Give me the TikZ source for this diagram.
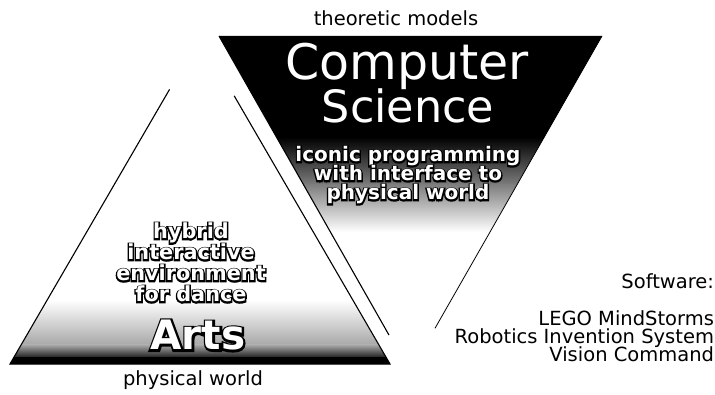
\documentclass[tikz,border=0pt]{standalone}
\usepackage{fontspec}
\setmainfont{DejaVu Sans}
\newfontfamily\olfont[FakeBold=14]{DejaVu Sans Bold}
\newfontfamily\olfontA[FakeBold=10]{DejaVu Sans Bold}
\newfontfamily\whfont{DejaVu Sans Bold}
\usetikzlibrary{calc}
\newcommand{\olt}[1]{\leavevmode\rlap{\color{black}\olfont #1}{\color{white}\whfont #1}}
\newcommand{\oltA}[1]{\leavevmode\rlap{\color{black}\olfontA #1}{\color{white}\whfont #1}}
\begin{document}
\begin{tikzpicture}[x=1pt,y=-1pt,
  every node/.style={inner sep=0pt, outer sep=0pt},
  lab/.style={font=\fontsize{19.5}{15}\selectfont, anchor=base},
  rlab/.style={font=\fontsize{19.5}{15}\selectfont, anchor=base east},
  outl/.style={font=\fontsize{20}{20}\selectfont, anchor=base},
  outlb/.style={font=\fontsize{20.8}{20}\selectfont, anchor=base},
  bigw/.style={anchor=base, text=white},
  edgeline/.style={line width=1.1pt, black},
  thinedge/.style={line width=0.8pt, black}]
\useasboundingbox (0,0) rectangle (715,395);

% ---------- geometry ----------
\coordinate (A1) at (10,364);
\coordinate (A2) at (390,364);
\coordinate (AT) at (200,37);
\coordinate (C1) at (219,36);
\coordinate (C2) at (602,36);
\coordinate (CB) at (410,372);

% ---------- Computer Science triangle (black fading down) ----------
\begin{scope}
  \clip (C1) -- (C2) -- (CB) -- cycle;
  \fill[black] (200,30) rectangle (620,138);
  \shade[top color=black, bottom color=black!50] (200,137) rectangle (620,186);
  \shade[top color=black!50, bottom color=white] (200,185) rectangle (620,232);
\end{scope}
\draw[edgeline] (C1) -- ($(C1)!0.89!(CB)$);
\draw[thinedge] (C2) -- ($(C2)!0.87!(CB)$);

% ---------- Arts triangle (white fading to black at base) ----------
\begin{scope}
  \clip (A1) -- (A2) -- (AT) -- cycle;
  \shade[top color=white, bottom color=black!35] (0,300) rectangle (400,346);
  \shade[top color=black!35, bottom color=black!90] (0,345) rectangle (400,358);
  \fill[black] (0,357) rectangle (400,365);
\end{scope}
\draw[edgeline] ($(AT)!0.16!(A1)$) -- (A1) -- (A2) -- ($(AT)!0.18!(A2)$);

% ---------- texts ----------
\node[lab] (tm) at (396,26) {theoretic models};
\node[bigw, font=\fontsize{49}{49}\selectfont] (cs1) at (407,80) {Computer};
\node[bigw, font=\fontsize{44.5}{44.5}\selectfont] (cs2) at (408,123) {Science};
\node[outl] (ip1) at (408,162) {\olt{iconic programming}};
\node[outl] (ip2) at (408,181) {\olt{with interface to}};
\node[outl] (ip3) at (408,200) {\olt{physical world}};

\node[outlb] (hy1) at (191,239) {\olt{hybrid}};
\node[outlb] (hy2) at (191,260) {\olt{interactive}};
\node[outlb] (hy3) at (191,281) {\olt{environment}};
\node[outlb] (hy4) at (191,302) {\olt{for dance}};
\node[font=\fontsize{40.5}{40}\selectfont, anchor=base] (arts) at (198,350) {\oltA{Arts}};
\node[lab] (pw) at (193,385) {physical world};

\node[rlab] (sw) at (714,289) {Software:};
\node[rlab] (lego) at (714,325.5) {LEGO MindStorms};
\node[rlab] (ris) at (714,344) {Robotics Invention System};
\node[rlab] (vc) at (714,362) {Vision Command};
\end{tikzpicture}
\end{document}
